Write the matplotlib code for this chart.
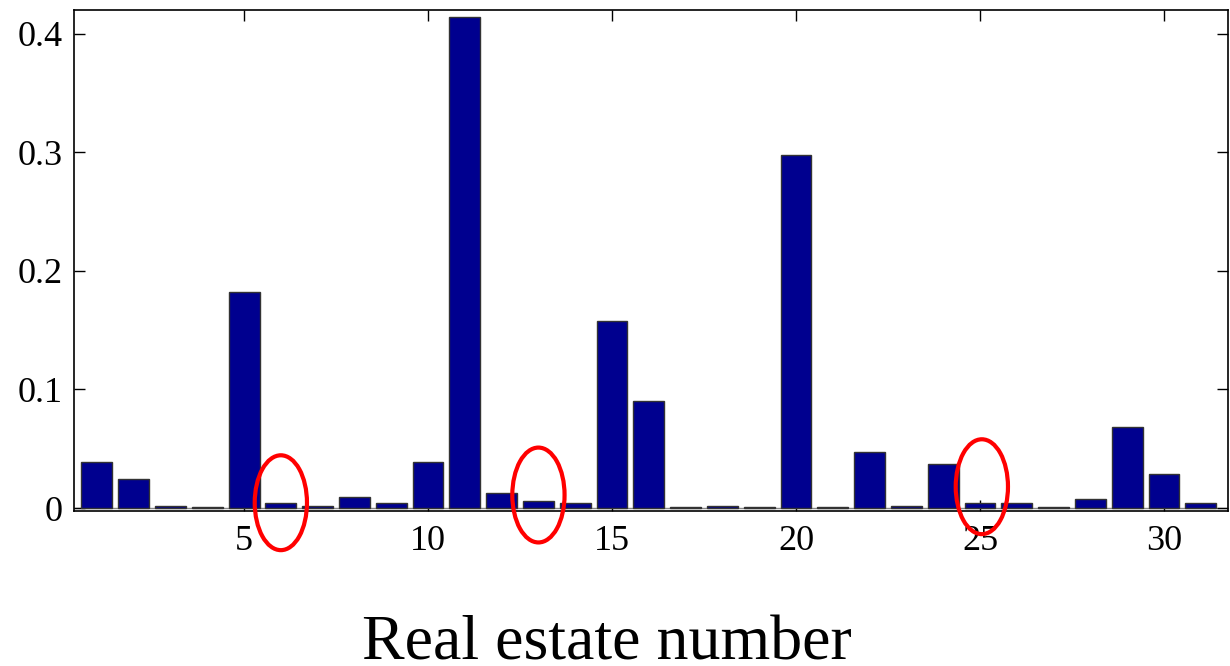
import matplotlib
matplotlib.use("Agg")
import matplotlib.pyplot as plt
from matplotlib.patches import Ellipse

plt.rcParams['font.family'] = ['Liberation Serif', 'DejaVu Serif']

# Weight of each real estate
estate_ids = list(range(1, 32))
weights = [0.0385, 0.0244, 0.002, 0.0005, 0.182, 0.004, 0.002, 0.009, 0.004, 0.0385,
           0.4145, 0.0126, 0.0059, 0.004, 0.158, 0.0904, 0.0005, 0.002, 0.0005, 0.298,
           0.0005, 0.047, 0.002, 0.037, 0.004, 0.004, 0.0005, 0.0076, 0.0685, 0.0284,
           0.004]

# Highlighted estates (x centre, y centre of the ring)
ring_x = [6, 13, 25.05]
ring_y = [0.0045, 0.011, 0.018]

x_ticks = [5, 10, 15, 20, 25, 30]
y_ticks = [0, 0.1, 0.2, 0.3, 0.4]
y_tick_labels = ['0', '0.1', '0.2', '0.3', '0.4']

fig = plt.figure(figsize=(12.3, 6.66), dpi=100)
ax = fig.add_axes([0.0602, 0.2327, 0.9382, 0.7523])

ax.bar(estate_ids, weights, width=0.84, color='#00008f',
       edgecolor='#333333', linewidth=1.0, zorder=2)
ax.axhline(0, color='#888888', linewidth=1.0, zorder=1)

for cx, cy in zip(ring_x, ring_y):
    ax.add_patch(Ellipse((cx, cy), width=1.42, height=0.08, fill=False,
                         edgecolor='#ff0000', linewidth=3, clip_on=False, zorder=5))

ax.set_xlim(0.38, 31.74)
ax.set_ylim(-0.0025, 0.42)
ax.set_xticks(x_ticks)
ax.set_yticks(y_ticks)
ax.set_yticklabels(y_tick_labels)

ax.tick_params(direction='in', length=8, width=1, labelsize=26,
               top=True, right=True, colors='black')
ax.tick_params(axis='x', pad=10)
ax.tick_params(axis='y', pad=8)
for s in ax.spines.values():
    s.set_linewidth(1.2)

fig.text(0.493, 0.01, 'Real estate number', fontsize=46,
         ha='center', va='baseline')

fig.savefig('out.png', dpi=100)
